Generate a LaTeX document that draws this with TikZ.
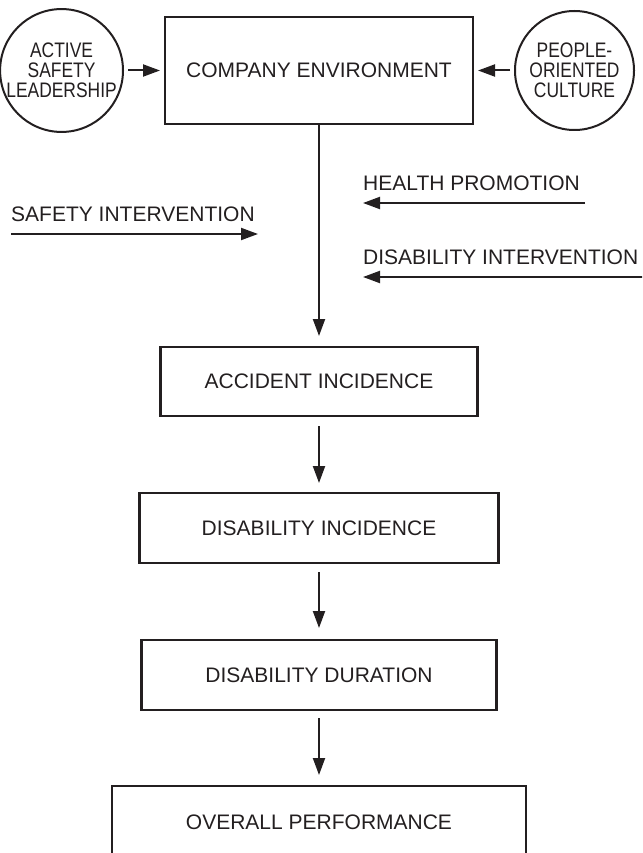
\documentclass[tikz,border=0pt]{standalone}
\usepackage{fontspec}
\setmainfont{Liberation Sans}
\newfontfamily\narrowfont[FakeStretch=0.83]{Liberation Sans}
\usepackage{xcolor}
\usetikzlibrary{shapes, arrows.meta, positioning}

\definecolor{ink}{RGB}{35,31,32}

\begin{document}
\begin{tikzpicture}[x=1pt, y=1pt, >={Triangle[length=17pt, width=12pt]},
		every node/.style={text=ink, font=\fontsize{21}{25}\selectfont},
		box/.style={draw=ink, line width=2.6pt, minimum height=70pt, inner sep=0pt, outer sep=0pt},
		circ/.style={circle, draw=ink, line width=2pt, minimum size=119pt, inner sep=0pt, outer sep=0pt,
			align=center, font=\narrowfont\fontsize{21}{20}\selectfont},
		arr/.style={->, draw=ink, line width=2pt},
		lbl/.style={inner sep=0pt}]

		\clip (0,0) rectangle (642,-853);

		% Entorno
		\node[box, minimum width=308pt, minimum height=107pt] (company) at (319,-70.5) {COMPANY ENVIRONMENT};
		\node[circ, left=42pt of company] (leader) {ACTIVE\\SAFETY\\LEADERSHIP};
		\node[circ, right=42pt of company] (culture) {PEOPLE-\\ORIENTED\\CULTURE};

		% Cadena
		\node[box, minimum width=317pt, minimum height=69pt, below=223pt of company] (accident) {ACCIDENT INCIDENCE};
		\node[box, minimum width=359pt, below=77pt of accident] (disinc) {DISABILITY INCIDENCE};
		\node[box, minimum width=355pt, below=77pt of disinc] (duration) {DISABILITY DURATION};
		\node[box, minimum width=414pt, minimum height=72pt, below=76pt of duration] (overall) {OVERALL PERFORMANCE};

		% Intervenciones
		\coordinate (si-a) at (11,-234);
		\coordinate (si-b) at (258,-234);
		\node[lbl, anchor=base west] (safety) at ([yshift=13pt]si-a) {SAFETY INTERVENTION};

		\coordinate (hp-a) at (585,-203);
		\coordinate (hp-b) at (363,-203);
		\node[lbl, anchor=base west] (health) at ([yshift=13pt]hp-b) {HEALTH PROMOTION};

		\coordinate (di-a) at (645,-277);
		\coordinate (di-b) at (363,-277);
		\node[lbl, anchor=base west] (disint) at ([yshift=13pt]di-b) {DISABILITY INTERVENTION};

		% Flechas
		\draw[arr, shorten <=5pt, shorten >=5pt] (leader) -- (company);
		\draw[arr, shorten <=5pt, shorten >=5pt] (culture) -- (company);
		\draw[arr, shorten >=11pt] (company) -- (accident);
		\draw[arr, shorten <=10pt, shorten >=10pt] (accident) -- (disinc);
		\draw[arr, shorten <=9pt, shorten >=12pt] (disinc) -- (duration);
		\draw[arr, shorten <=8pt, shorten >=11pt] (duration) -- (overall);
		\draw[arr] (si-a) -- (si-b);
		\draw[arr] (hp-a) -- (hp-b);
		\draw[arr] (di-a) -- (di-b);
	\end{tikzpicture}
\end{document}
